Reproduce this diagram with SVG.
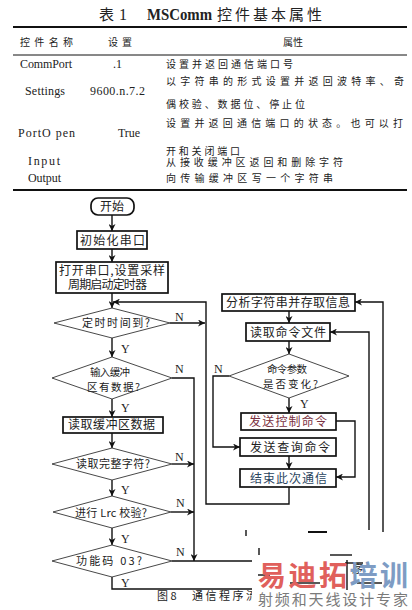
<svg xmlns="http://www.w3.org/2000/svg" width="412" height="610" viewBox="0 0 412 610">
<defs>
<marker id="ah" viewBox="0 0 10 10" refX="10" refY="5" markerWidth="7" markerHeight="7" markerUnits="userSpaceOnUse" orient="auto">
<path d="M0,0 L10,5 L0,10 L3,5 z" fill="#111"/>
</marker>
</defs>
<style>
.cj{font-family:"Noto Sans CJK SC","Noto Sans",sans-serif;fill:#222;}
.sf{font-family:"Liberation Serif","Noto Sans CJK SC",serif;fill:#222;}
.t{font-size:10px;}
.f{font-size:12px;}
.yn{font-family:"Liberation Serif",serif;font-size:12px;fill:#222;}
.box{fill:#fff;stroke:#111;stroke-width:1.7;}
.dia{fill:#fff;stroke:#333;stroke-width:0.9;}
.ln{fill:none;stroke:#111;stroke-width:1.4;}
.ar{fill:none;stroke:#111;stroke-width:1.4;marker-end:url(#ah);}
.rule{stroke:#111;}
</style>
<rect width="412" height="610" fill="#fff"/>

<g id="table">
<text x="99" y="20" class="cj" font-size="15">表</text>
<text x="119" y="20" class="sf" font-size="16">1</text>
<text x="147" y="20" class="sf" font-size="16" font-weight="bold" textLength="65" lengthAdjust="spacingAndGlyphs">MSComm</text>
<text x="217" y="20" class="cj" font-size="15" textLength="105" lengthAdjust="spacing">控件基本属性</text>
<line x1="13" y1="27" x2="407" y2="27" class="rule" stroke-width="2.2"/>
<text x="20" y="46" class="cj t" textLength="53" lengthAdjust="spacing">控件名称</text>
<text x="108" y="46" class="cj t" textLength="24" lengthAdjust="spacing">设置</text>
<text x="283" y="46" class="cj t" textLength="20" lengthAdjust="spacing">属性</text>
<line x1="13" y1="55" x2="407" y2="55" class="rule" stroke-width="1"/>
<text x="20" y="68" class="sf f" textLength="52" lengthAdjust="spacing">CommPort</text>
<text x="113" y="68" class="sf f">.1</text>
<text x="166" y="68" class="cj t" textLength="127" lengthAdjust="spacing">设置并返回通信端口号</text>
<text x="25" y="95" class="sf f" textLength="40" lengthAdjust="spacing">Settings</text>
<text x="90" y="95" class="sf f" textLength="55" lengthAdjust="spacing">9600.n.7.2</text>
<text x="166" y="85" class="cj t" textLength="238" lengthAdjust="spacing">以字符串的形式设置并返回波特率、奇</text>
<text x="166" y="108" class="cj t" textLength="139" lengthAdjust="spacing">偶校验、数据位、停止位</text>
<text x="18" y="137" class="sf f" textLength="57" lengthAdjust="spacing">PortO pen</text>
<text x="118" y="137" class="sf f" textLength="22" lengthAdjust="spacing">True</text>
<text x="166" y="127" class="cj t" textLength="237" lengthAdjust="spacing">设置并返回通信端口的状态。也可以打</text>
<text x="166" y="155" class="cj t" textLength="74" lengthAdjust="spacing">开和关闭端口</text>
<text x="28" y="165" class="sf f" textLength="32" lengthAdjust="spacing">Input</text>
<text x="166" y="166" class="cj t" textLength="177" lengthAdjust="spacing">从接收缓冲区返回和删除字符</text>
<text x="28" y="182" class="sf f" textLength="33" lengthAdjust="spacing">Output</text>
<text x="166" y="182" class="cj t" textLength="167" lengthAdjust="spacing">向传输缓冲区写一个字符串</text>
<line x1="13" y1="190" x2="407" y2="190" class="rule" stroke-width="2.2"/>
</g>

<g id="connectors">
<line x1="112" y1="215" x2="112" y2="231" class="ar"/>
<line x1="112" y1="249" x2="112" y2="262" class="ar"/>
<line x1="112" y1="293" x2="112" y2="308" class="ar"/>
<line x1="112" y1="338" x2="112" y2="357" class="ar"/>
<line x1="112" y1="399" x2="112" y2="417" class="ar"/>
<line x1="112" y1="433" x2="112" y2="448" class="ar"/>
<line x1="112" y1="480" x2="112" y2="496" class="ar"/>
<line x1="112" y1="528" x2="112" y2="545" class="ar"/>
<polyline points="112,577 112,589 258,589" class="ln"/>
<line x1="170" y1="323" x2="205" y2="323" class="ar"/>
<polyline points="172,378 194,378 194,561" class="ar"/>
<line x1="172" y1="464" x2="194" y2="464" class="ar"/>
<line x1="171" y1="512" x2="194" y2="512" class="ar"/>
<line x1="172" y1="561" x2="258" y2="561" class="ln"/>
<polyline points="289,487 289,504 206,504 206,302 113,302" class="ar"/>
<polyline points="383,532 383,302 355,302" class="ar"/>
<polyline points="369,530 369,332 330,332" class="ar"/>
<line x1="289" y1="311" x2="289" y2="323" class="ar"/>
<line x1="289" y1="341" x2="289" y2="354" class="ar"/>
<line x1="289" y1="398" x2="289" y2="413" class="ar"/>
<polyline points="229,376 213,376 213,447 240,447" class="ar"/>
<polyline points="336,421 355,421 355,477 336,477" class="ar"/>
<line x1="289" y1="456" x2="289" y2="469" class="ar"/>
</g>

<g id="start">
<rect x="91" y="198" width="43" height="17" rx="7" class="box"/>
<text x="100" y="211" class="cj" font-size="12" textLength="24" lengthAdjust="spacing">开始</text>
</g>
<g id="init">
<rect x="77" y="231" width="70" height="18" class="box"/>
<text x="80" y="245" class="cj" font-size="12" textLength="65" lengthAdjust="spacing">初始化串口</text>
</g>
<g id="open">
<rect x="56" y="262" width="112" height="31" class="box"/>
<text x="59" y="275" class="cj" font-size="12" textLength="106" lengthAdjust="spacing">打开串口,设置采样</text>
<text x="68" y="289" class="cj" font-size="12" textLength="79" lengthAdjust="spacing">周期启动定时器</text>
</g>
<g id="d1">
<polygon points="54,323 112,308 170,323 112,338" class="dia"/>
<text x="82" y="327" class="cj" font-size="11" textLength="68" lengthAdjust="spacing">定时时间到?</text>
<text x="175" y="321" class="yn">N</text>
<text x="121" y="353" class="yn">Y</text>
</g>
<g id="d2">
<polygon points="52,378 112,357 172,378 112,399" class="dia"/>
<text x="90" y="376" class="cj" font-size="10.5" textLength="40" lengthAdjust="spacing">输入缓冲</text>
<text x="87" y="391" class="cj" font-size="10.5" textLength="53" lengthAdjust="spacing">区有数据?</text>
<text x="175" y="373" class="yn">N</text>
<text x="121" y="412" class="yn">Y</text>
</g>
<g id="readbuf">
<rect x="63" y="417" width="100" height="16" class="box"/>
<text x="68" y="429" class="cj" font-size="12" textLength="87" lengthAdjust="spacing">读取缓冲区数据</text>
</g>
<g id="d3">
<polygon points="52,464 112,448 172,464 112,480" class="dia"/>
<text x="76" y="468" class="cj" font-size="11" textLength="74" lengthAdjust="spacing">读取完整字符?</text>
<text x="175" y="461" class="yn">N</text>
<text x="121" y="494" class="yn">Y</text>
</g>
<g id="d4">
<polygon points="53,512 112,496 171,512 112,528" class="dia"/>
<text x="75" y="517" class="cj" font-size="11" textLength="72" lengthAdjust="spacing">进行 Lrc 校验?</text>
<text x="176" y="507" class="yn">N</text>
<text x="121" y="543" class="yn">Y</text>
</g>
<g id="d5">
<polygon points="52,561 112,545 172,561 112,577" class="dia"/>
<text x="76" y="565" class="cj" font-size="11" textLength="66" lengthAdjust="spacing">功能码 03?</text>
<text x="176" y="556" class="yn">N</text>
<text x="121" y="587" class="yn">Y</text>
</g>
<g id="analyze">
<rect x="222" y="294" width="133" height="17" class="box"/>
<text x="226" y="307" class="cj" font-size="12" textLength="124" lengthAdjust="spacing">分析字符串并存取信息</text>
</g>
<g id="readcmd">
<rect x="246" y="323" width="84" height="18" class="box"/>
<text x="250" y="337" class="cj" font-size="12" textLength="76" lengthAdjust="spacing">读取命令文件</text>
</g>
<g id="dr">
<polygon points="229,376 289,354 349,376 289,398" class="dia"/>
<text x="267" y="373" class="cj" font-size="10.5" textLength="40" lengthAdjust="spacing">命令参数</text>
<text x="263" y="388" class="cj" font-size="10.5" textLength="55" lengthAdjust="spacing">是否变化?</text>
<text x="214" y="373" class="yn">N</text>
<text x="300" y="408" class="yn">Y</text>
</g>
<g id="sendctrl">
<rect x="241" y="413" width="95" height="17" class="box"/>
<text x="249" y="426" class="cj" font-size="12" style="fill:#7a3040" textLength="78" lengthAdjust="spacing">发送控制命令</text>
</g>
<g id="sendquery">
<rect x="240" y="438" width="96" height="18" class="box"/>
<text x="250" y="452" class="cj" font-size="12" textLength="80" lengthAdjust="spacing">发送查询命令</text>
</g>
<g id="end">
<rect x="240" y="469" width="96" height="18" class="box"/>
<text x="250" y="483" class="cj" font-size="12" style="fill:#2a4560" textLength="77" lengthAdjust="spacing">结束此次通信</text>
</g>

<g id="caption">
<text x="157" y="600" class="cj" font-size="11">图 8</text>
<text x="192" y="600" class="cj" font-size="11" textLength="65" lengthAdjust="spacing">通信程序流</text>
</g>

<g id="watermark">
<rect x="252" y="540" width="160" height="70" fill="#fff"/>
<g class="ln" stroke-width="1.2">
<line x1="246" y1="530" x2="246" y2="536"/>
<line x1="308" y1="532" x2="327" y2="532" stroke-width="2"/>
<line x1="259" y1="548" x2="259" y2="555"/>
<line x1="330" y1="555" x2="352" y2="555"/>
<line x1="345" y1="563" x2="363" y2="563"/>
<line x1="347" y1="560" x2="347" y2="590"/>
<line x1="258" y1="575" x2="270" y2="575"/>
<line x1="290" y1="583" x2="320" y2="583"/>
<line x1="357" y1="583" x2="382" y2="583"/>
</g>
<text x="352" y="573" class="cj" font-size="11">序</text>
<text x="258" y="586" font-family="Noto Sans CJK SC,sans-serif" font-size="28" font-weight="bold" textLength="150" lengthAdjust="spacing"><tspan fill="#e0605c">易迪拓</tspan><tspan fill="#7e9cc4">培训</tspan></text>
<text x="258" y="605" font-family="Noto Sans CJK SC,sans-serif" font-size="15" fill="#7a7a7a" textLength="150" lengthAdjust="spacing">射频和天线设计专家</text>
</g>
</svg>
